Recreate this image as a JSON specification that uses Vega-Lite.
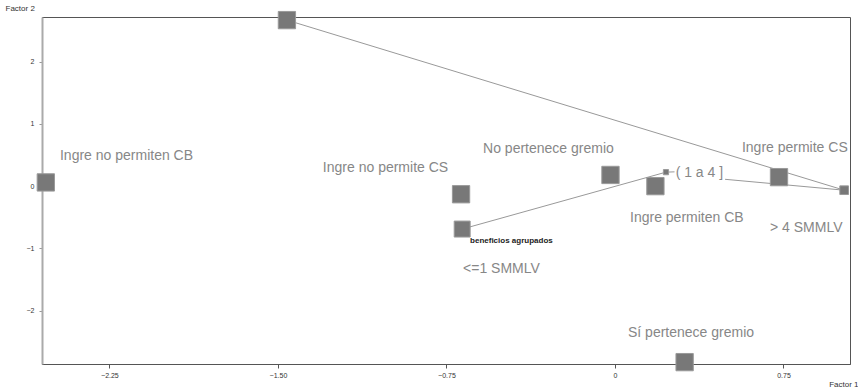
{
  "$schema": "https://vega.github.io/schema/vega-lite/v6.json",
  "autosize": {"type": "none"},
  "width": 808,
  "height": 347,
  "padding": {"left": 42, "top": 17, "right": 8, "bottom": 27},
  "background": "white",
  "config": {
    "view": {"stroke": "#555555", "strokeWidth": 1},
    "font": "Liberation Sans"
  },
  "datasets": {
    "puntos": [
      {"categoria": "Ingre no permite CS (alt)", "f1": -1.46, "f2": 2.67, "masa": 1},
      {"categoria": "Ingre no permiten CB", "f1": -2.533, "f2": 0.06, "masa": 1},
      {"categoria": "Ingre no permite CS", "f1": -0.685, "f2": -0.13, "masa": 1},
      {"categoria": "No pertenece gremio", "f1": -0.02, "f2": 0.18, "masa": 1},
      {"categoria": "Ingre permiten CB", "f1": 0.18, "f2": 0.0, "masa": 1},
      {"categoria": "( 1 a 4 ]", "f1": 0.227, "f2": 0.225, "masa": 0.09},
      {"categoria": "Ingre permite CS", "f1": 0.73, "f2": 0.145, "masa": 1},
      {"categoria": "> 4 SMMLV", "f1": 1.02, "f2": -0.065, "masa": 0.25},
      {"categoria": "<=1 SMMLV", "f1": -0.68, "f2": -0.69, "masa": 0.85},
      {"categoria": "Sí pertenece gremio", "f1": 0.31, "f2": -2.83, "masa": 1}
    ],
    "lineas": [
      {"serie": "a", "orden": 1, "f1": -1.46, "f2": 2.67},
      {"serie": "a", "orden": 2, "f1": 1.02, "f2": -0.065},
      {"serie": "b", "orden": 1, "f1": -0.68, "f2": -0.69},
      {"serie": "b", "orden": 2, "f1": 0.227, "f2": 0.225},
      {"serie": "b", "orden": 3, "f1": 0.265, "f2": 0.23},
      {"serie": "c", "orden": 1, "f1": 0.49, "f2": 0.11},
      {"serie": "c", "orden": 2, "f1": 1.02, "f2": -0.065}
    ],
    "etiquetas": [
      {"texto": "Ingre no permiten CB", "f1": -2.47, "f2": 0.418},
      {"texto": "Ingre no permite CS", "f1": -1.30, "f2": 0.225},
      {"texto": "No pertenece gremio", "f1": -0.587, "f2": 0.53},
      {"texto": "Ingre permiten CB", "f1": 0.067, "f2": -0.58},
      {"texto": "( 1 a 4 ]", "f1": 0.27, "f2": 0.145},
      {"texto": "Ingre permite CS", "f1": 0.565, "f2": 0.547},
      {"texto": "> 4 SMMLV", "f1": 0.69, "f2": -0.74},
      {"texto": "<=1 SMMLV", "f1": -0.676, "f2": -1.40},
      {"texto": "Sí pertenece gremio", "f1": 0.058, "f2": -2.43}
    ],
    "notas": [
      {"texto": "beneficios agrupados", "f1": -0.645, "f2": -0.916}
    ]
  },
  "layer": [
    {
      "mark": {"type": "rule", "color": "#666666", "strokeDash": [2, 2], "strokeWidth": 1},
      "encoding": {
        "x": {"datum": 0, "type": "quantitative"}
      }
    },
    {
      "mark": {"type": "rule", "color": "#666666", "strokeDash": [2, 2], "strokeWidth": 1},
      "encoding": {
        "y": {"datum": 0, "type": "quantitative"}
      }
    },
    {
      "data": {"name": "lineas"},
      "mark": {"type": "line", "color": "#999999", "strokeWidth": 1},
      "encoding": {
        "x": {
          "field": "f1", "type": "quantitative",
          "scale": {"domain": [-2.55, 1.046], "nice": false, "zero": false},
          "axis": {
            "title": "Factor 1",
            "titleFontSize": 8,
            "titleFontWeight": "normal",
            "titleColor": "#333333",
            "titleAlign": "right",
            "titleAnchor": null,
            "titleX": 816,
            "titleY": 22,
            "titleBaseline": "alphabetic",
            "values": [-2.25, -1.5, -0.75, 0, 0.75],
            "labelExpr": "datum.value == 0 ? '0' : format(datum.value, '.2f')",
            "labelFontSize": 7,
            "labelColor": "#333333",
            "labelPadding": 3,
            "tickSize": 4,
            "tickColor": "#555555",
            "domainColor": "#555555",
            "grid": false
          }
        },
        "y": {
          "field": "f2", "type": "quantitative",
          "scale": {"domain": [-2.86, 2.72], "nice": false, "zero": false},
          "axis": {
            "title": "Factor 2",
            "titleFontSize": 8,
            "titleFontWeight": "normal",
            "titleColor": "#333333",
            "titleAngle": 0,
            "titleAlign": "left",
            "titleAnchor": null,
            "titleX": -37,
            "titleY": -7,
            "titleBaseline": "alphabetic",
            "values": [-2, -1, 0, 1, 2],
            "labelExpr": "format(datum.value, 'd')",
            "labelFontSize": 7,
            "labelColor": "#333333",
            "labelPadding": 5,
            "tickSize": 3,
            "tickColor": "#999999",
            "domainColor": "#aaaaaa",
            "domainWidth": 2,
            "grid": false
          }
        },
        "detail": {"field": "serie"},
        "order": {"field": "orden"}
      }
    },
    {
      "data": {"name": "puntos"},
      "mark": {"type": "point", "shape": "square", "filled": true, "fill": "#787878", "stroke": "#9a9a9a", "strokeWidth": 1, "opacity": 1},
      "encoding": {
        "x": {"field": "f1", "type": "quantitative"},
        "y": {"field": "f2", "type": "quantitative"},
        "size": {"field": "masa", "type": "quantitative", "scale": {"domain": [0, 1], "range": [0, 300]}, "legend": null}
      }
    },
    {
      "data": {"name": "etiquetas"},
      "mark": {"type": "text", "align": "left", "baseline": "alphabetic", "fontSize": 14, "color": "#878787"},
      "encoding": {
        "x": {"field": "f1", "type": "quantitative"},
        "y": {"field": "f2", "type": "quantitative"},
        "text": {"field": "texto"}
      }
    },
    {
      "data": {"name": "notas"},
      "mark": {"type": "text", "align": "left", "baseline": "alphabetic", "fontSize": 8, "fontWeight": "bold", "color": "#222222"},
      "encoding": {
        "x": {"field": "f1", "type": "quantitative"},
        "y": {"field": "f2", "type": "quantitative"},
        "text": {"field": "texto"}
      }
    }
  ]
}
